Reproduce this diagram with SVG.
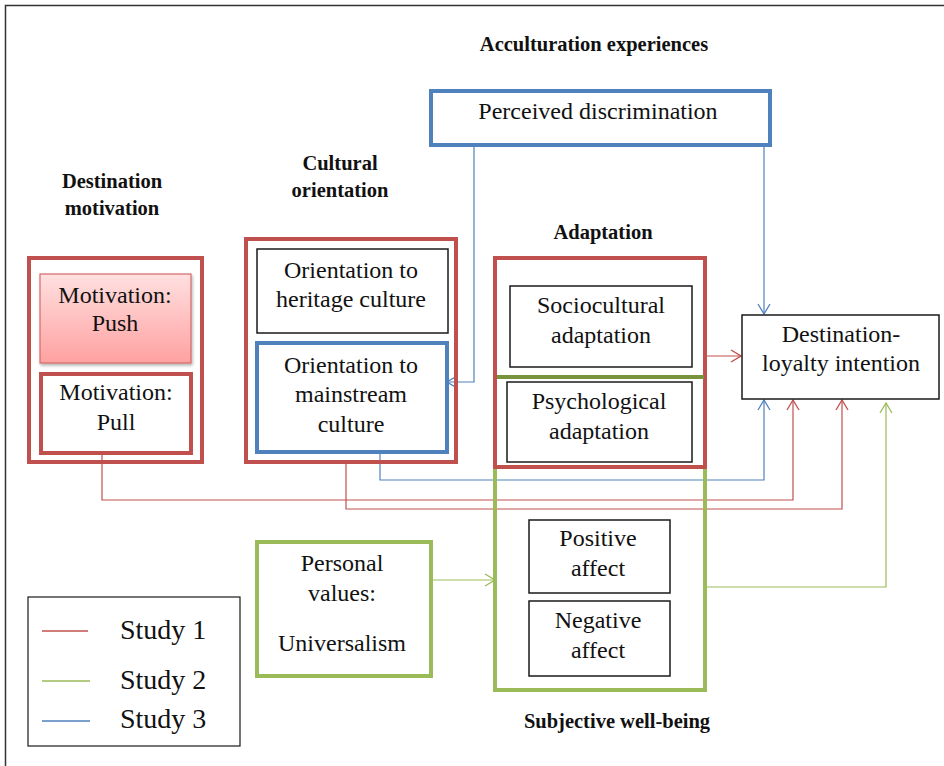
<svg xmlns="http://www.w3.org/2000/svg" width="944" height="766" viewBox="0 0 944 766">
<style>
.bg{fill:#ffffff}
.t{font-family:"Liberation Serif","Times New Roman",serif;font-size:24px;fill:#111;text-anchor:middle}
.h{font-family:"Liberation Serif","Times New Roman",serif;font-size:20.5px;font-weight:bold;fill:#111;text-anchor:middle}
.lg{font-family:"Liberation Serif","Times New Roman",serif;font-size:28px;fill:#111}
.red{fill:none;stroke:#c0504d;stroke-width:4}
.blue{fill:none;stroke:#4f81bd;stroke-width:4}
.green{fill:none;stroke:#9bbb59;stroke-width:4}
.blk{fill:#fff;stroke:#1a1a1a;stroke-width:1.5}
.cr{fill:none;stroke:#c0504d;stroke-width:1.2}
.cb{fill:none;stroke:#4f81bd;stroke-width:1.2}
.cg{fill:none;stroke:#9bbb59;stroke-width:1.2}
</style>
<defs>
<linearGradient id="pushg" x1="0" y1="0" x2="0" y2="1">
<stop offset="0" stop-color="#ffe0e0"/>
<stop offset="1" stop-color="#ffa1a1"/>
</linearGradient>
<filter id="sh" x="-10%" y="-10%" width="125%" height="130%">
<feDropShadow dx="1" dy="2" stdDeviation="1.5" flood-color="#000" flood-opacity="0.3"/>
</filter>
<marker id="ar" viewBox="0 0 12 14" refX="11" refY="7" markerWidth="12" markerHeight="14" markerUnits="userSpaceOnUse" orient="auto">
<path d="M1,1 L11,7 L1,13" fill="none" stroke="#c0504d" stroke-width="1.3"/>
</marker>
<marker id="ab" viewBox="0 0 12 14" refX="11" refY="7" markerWidth="12" markerHeight="14" markerUnits="userSpaceOnUse" orient="auto">
<path d="M1,1 L11,7 L1,13" fill="none" stroke="#4f81bd" stroke-width="1.3"/>
</marker>
<marker id="ag" viewBox="0 0 12 14" refX="11" refY="7" markerWidth="12" markerHeight="14" markerUnits="userSpaceOnUse" orient="auto">
<path d="M1,1 L11,7 L1,13" fill="none" stroke="#9bbb59" stroke-width="1.3"/>
</marker>
</defs>
<rect class="bg" x="0" y="0" width="944" height="766"/>
<path d="M5.5,766 L5.5,5.5 L944,5.5" fill="none" stroke="#333" stroke-width="1.5"/>

<g id="labels">
<text class="h" x="594" y="51">Acculturation experiences</text>
<text class="h" x="112" y="188">Destination</text>
<text class="h" x="112" y="215">motivation</text>
<text class="h" x="340" y="170">Cultural</text>
<text class="h" x="340" y="197">orientation</text>
<text class="h" x="603" y="239">Adaptation</text>
<text class="h" x="617" y="728">Subjective well-being</text>
</g>

<g id="connectors">
<path class="cb" d="M474,145 L474,382 L447,382" marker-end="url(#ab)"/>
<path class="cb" d="M764,145 L764,314" marker-end="url(#ab)"/>
<path class="cr" d="M705,356 L741,356" marker-end="url(#ar)"/>
<path class="cr" d="M102,453 L102,500 L793,500 L793,400" marker-end="url(#ar)"/>
<path class="cr" d="M346,462 L346,509 L842,509 L842,400" marker-end="url(#ar)"/>
<path class="cb" d="M380,452 L380,480 L764,480 L764,400" marker-end="url(#ab)"/>
<path class="cg" d="M431,580 L495,580" marker-end="url(#ag)"/>
<path class="cg" d="M705,587 L886,587 L886,403" marker-end="url(#ag)"/>
</g>

<g id="perceived-discrimination">
<rect class="blue" x="431" y="91" width="339" height="54" fill="#fff"/>
<text class="t" x="598" y="119">Perceived discrimination</text>
</g>

<g id="destination-motivation">
<rect class="red" x="29" y="258" width="173" height="204"/>
</g>
<g id="motivation-push">
<rect x="40" y="274" width="151" height="89" fill="url(#pushg)" stroke="#d46a68" stroke-width="1.2" filter="url(#sh)"/>
<text class="t" x="115" y="303">Motivation:</text>
<text class="t" x="115" y="331">Push</text>
</g>
<g id="motivation-pull">
<rect class="red" x="41" y="374" width="150" height="79" fill="#fff"/>
<text class="t" x="116" y="400">Motivation:</text>
<text class="t" x="116" y="430">Pull</text>
</g>

<g id="cultural-orientation">
<rect class="red" x="246" y="239" width="210" height="223"/>
</g>
<g id="heritage">
<rect class="blk" x="257" y="249" width="191" height="84"/>
<text class="t" x="351" y="278">Orientation to</text>
<text class="t" x="351" y="307">heritage culture</text>
</g>
<g id="mainstream">
<rect class="blue" x="257" y="343" width="190" height="109" fill="#fff"/>
<text class="t" x="351" y="373">Orientation to</text>
<text class="t" x="351" y="402">mainstream</text>
<text class="t" x="351" y="432">culture</text>
</g>

<g id="subjective-well-being">
<rect class="green" x="495" y="377" width="210" height="313"/>
</g>
<g id="adaptation">
<rect class="red" x="495" y="258" width="210" height="209"/>
<line x1="497" y1="377" x2="704" y2="377" stroke="#77933c" stroke-width="4"/>
</g>
<g id="sociocultural">
<rect class="blk" x="510" y="286" width="182" height="81"/>
<text class="t" x="601" y="313">Sociocultural</text>
<text class="t" x="601" y="343">adaptation</text>
</g>
<g id="psychological">
<rect class="blk" x="507" y="382" width="185" height="80"/>
<text class="t" x="599" y="409">Psychological</text>
<text class="t" x="599" y="439">adaptation</text>
</g>
<g id="positive-affect">
<rect class="blk" x="529" y="520" width="141" height="73"/>
<text class="t" x="598" y="546">Positive</text>
<text class="t" x="598" y="576">affect</text>
</g>
<g id="negative-affect">
<rect class="blk" x="529" y="601" width="141" height="75"/>
<text class="t" x="598" y="628">Negative</text>
<text class="t" x="598" y="658">affect</text>
</g>

<g id="personal-values">
<rect class="green" x="257" y="542" width="174" height="134" fill="#fff"/>
<text class="t" x="342" y="571">Personal</text>
<text class="t" x="342" y="601">values:</text>
<text class="t" x="342" y="651">Universalism</text>
</g>

<g id="destination-loyalty">
<rect class="blk" x="742" y="315" width="197" height="84"/>
<text class="t" x="841" y="342">Destination-</text>
<text class="t" x="841" y="371">loyalty intention</text>
</g>

<g id="legend">
<rect x="28" y="597" width="212" height="149" fill="#fff" stroke="#1a1a1a" stroke-width="1.2"/>
<line x1="42" y1="631" x2="88" y2="631" stroke="#c0504d" stroke-width="1.5"/>
<line x1="42" y1="681" x2="90" y2="681" stroke="#9bbb59" stroke-width="1.5"/>
<line x1="42" y1="721" x2="90" y2="721" stroke="#4f81bd" stroke-width="1.5"/>
<text class="lg" x="120" y="639">Study 1</text>
<text class="lg" x="120" y="689">Study 2</text>
<text class="lg" x="120" y="728">Study 3</text>
</g>
</svg>
